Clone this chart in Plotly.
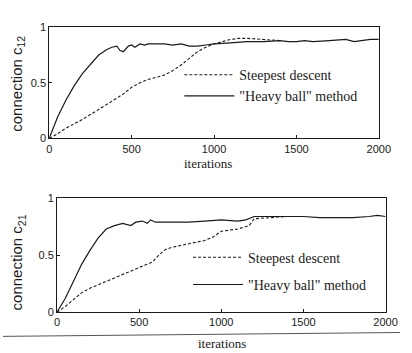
import plotly.graph_objects as go

# ---- data ----
it_hb1 = [0, 25, 50, 100, 150, 200, 250, 300, 350, 380, 410, 430, 450, 480, 500, 520, 550, 580, 600, 650,
          700, 750, 800, 850, 900, 950, 1000, 1100, 1200, 1300, 1400, 1450, 1500, 1550, 1600, 1700, 1800,
          1850, 1900, 1950, 2000]
hb1 = [0, 0.10, 0.19, 0.34, 0.47, 0.58, 0.67, 0.75, 0.80, 0.82, 0.83, 0.79, 0.78, 0.83, 0.84, 0.82, 0.85,
       0.84, 0.85, 0.85, 0.85, 0.84, 0.85, 0.83, 0.83, 0.84, 0.85, 0.86, 0.87, 0.87, 0.88, 0.87, 0.87, 0.88,
       0.87, 0.88, 0.89, 0.87, 0.88, 0.89, 0.89]
it_sd1 = [0, 50, 100, 200, 300, 400, 450, 500, 550, 600, 700, 750, 800, 850, 900, 950, 1000, 1050, 1100,
          1150, 1200, 1300, 1400]
sd1 = [0, 0.04, 0.09, 0.17, 0.26, 0.35, 0.40, 0.46, 0.50, 0.53, 0.57, 0.61, 0.66, 0.72, 0.78, 0.82, 0.85,
       0.87, 0.89, 0.90, 0.90, 0.89, 0.88]

it_hb2 = [0, 50, 100, 150, 200, 250, 300, 350, 400, 450, 480, 520, 550, 570, 600, 700, 800, 900, 1000,
          1100, 1150, 1200, 1300, 1400, 1500, 1600, 1700, 1800, 1900, 1950, 2000]
hb2 = [0, 0.12, 0.27, 0.42, 0.54, 0.65, 0.73, 0.76, 0.78, 0.76, 0.79, 0.80, 0.78, 0.81, 0.79, 0.79, 0.79,
       0.80, 0.81, 0.80, 0.81, 0.84, 0.84, 0.84, 0.84, 0.83, 0.83, 0.83, 0.84, 0.85, 0.84]
it_sd2 = [0, 50, 100, 150, 200, 300, 400, 500, 580, 620, 660, 700, 800, 900, 950, 1000, 1050, 1100, 1170,
          1200, 1300, 1400]
sd2 = [0, 0.05, 0.11, 0.17, 0.21, 0.27, 0.33, 0.39, 0.44, 0.50, 0.55, 0.57, 0.60, 0.63, 0.66, 0.71, 0.72,
       0.73, 0.76, 0.82, 0.83, 0.84]

x_ticks = [0, 500, 1000, 1500, 2000]
y_ticks = [0, 0.5, 1]
y_tick_text = ["0", "0.5", "1"]
names = ["Steepest descent", "\"Heavy ball\" method"]

W, H = 412, 353
ink = "#1a1a1a"
serif = "Liberation Serif, Times New Roman, serif"
sans = "Liberation Sans, Arial, sans-serif"

fig = go.Figure()
fig.add_trace(go.Scatter(x=it_sd1, y=sd1, mode="lines", name=names[0], legend="legend", legendgroup="a",
                         line=dict(color=ink, width=1.1, dash="3px,2px"), xaxis="x", yaxis="y"))
fig.add_trace(go.Scatter(x=it_hb1, y=hb1, mode="lines", name=names[1], legend="legend", legendgroup="b",
                         line=dict(color=ink, width=1.2), xaxis="x", yaxis="y"))
fig.add_trace(go.Scatter(x=it_sd2, y=sd2, mode="lines", name=names[0], legend="legend2", legendgroup="c",
                         line=dict(color=ink, width=1.1, dash="3px,2px"), xaxis="x2", yaxis="y2"))
fig.add_trace(go.Scatter(x=it_hb2, y=hb2, mode="lines", name=names[1], legend="legend2", legendgroup="d",
                         line=dict(color=ink, width=1.2), xaxis="x2", yaxis="y2"))


def px(v):
    return v / W


def py(v):
    return 1 - v / H


axis_common = dict(showgrid=False, zeroline=False, showline=True, mirror=True, linecolor=ink,
                   linewidth=1, ticks="inside", ticklen=3, tickcolor=ink,
                   tickfont=dict(family=sans, size=11, color=ink))

leg_common = dict(xanchor="left", yanchor="top", bgcolor="rgba(0,0,0,0)", itemwidth=50,
                  font=dict(family=serif, size=14, color=ink))

fig.update_layout(
    width=W, height=H, margin=dict(l=0, r=0, t=0, b=0),
    paper_bgcolor="white", plot_bgcolor="white", showlegend=True,
    xaxis=dict(domain=[px(48), px(390)], range=[0, 2000], tickvals=x_ticks, anchor="y", **axis_common),
    yaxis=dict(domain=[py(137), py(22)], range=[0, 1], tickvals=y_ticks, ticktext=y_tick_text,
               anchor="x", **axis_common),
    xaxis2=dict(domain=[px(56), px(397)], range=[0, 2000], tickvals=x_ticks, anchor="y2", **axis_common),
    yaxis2=dict(domain=[py(317), py(199)], range=[0, 1], tickvals=y_ticks, ticktext=y_tick_text,
                anchor="x2", **axis_common),
    legend=dict(x=px(183), y=py(55), tracegroupgap=0, **leg_common),
    legend2=dict(x=px(192), y=py(244), tracegroupgap=6, **leg_common),
    annotations=[
        dict(text="iterations", x=px(213), y=py(163), xref="paper", yref="paper", showarrow=False,
             xanchor="center", yanchor="middle", font=dict(family=serif, size=13, color=ink)),
        dict(text="iterations", x=px(227), y=py(349), xref="paper", yref="paper", showarrow=False,
             xanchor="center", yanchor="middle", font=dict(family=serif, size=13, color=ink)),
        dict(text="connection c<sub>12</sub>", x=px(15), y=py(80), xref="paper", yref="paper",
             showarrow=False, textangle=-90, xanchor="center", yanchor="middle",
             font=dict(family=sans, size=15, color=ink)),
        dict(text="connection c<sub>21</sub>", x=px(16), y=py(265), xref="paper", yref="paper",
             showarrow=False, textangle=-90, xanchor="center", yanchor="middle",
             font=dict(family=sans, size=15, color=ink)),
    ],
    shapes=[
        dict(type="line", xref="paper", yref="paper", x0=0, x1=1, y0=py(342), y1=py(338),
             line=dict(color="#555", width=1)),
    ],
)

fig.write_html("out.html")
